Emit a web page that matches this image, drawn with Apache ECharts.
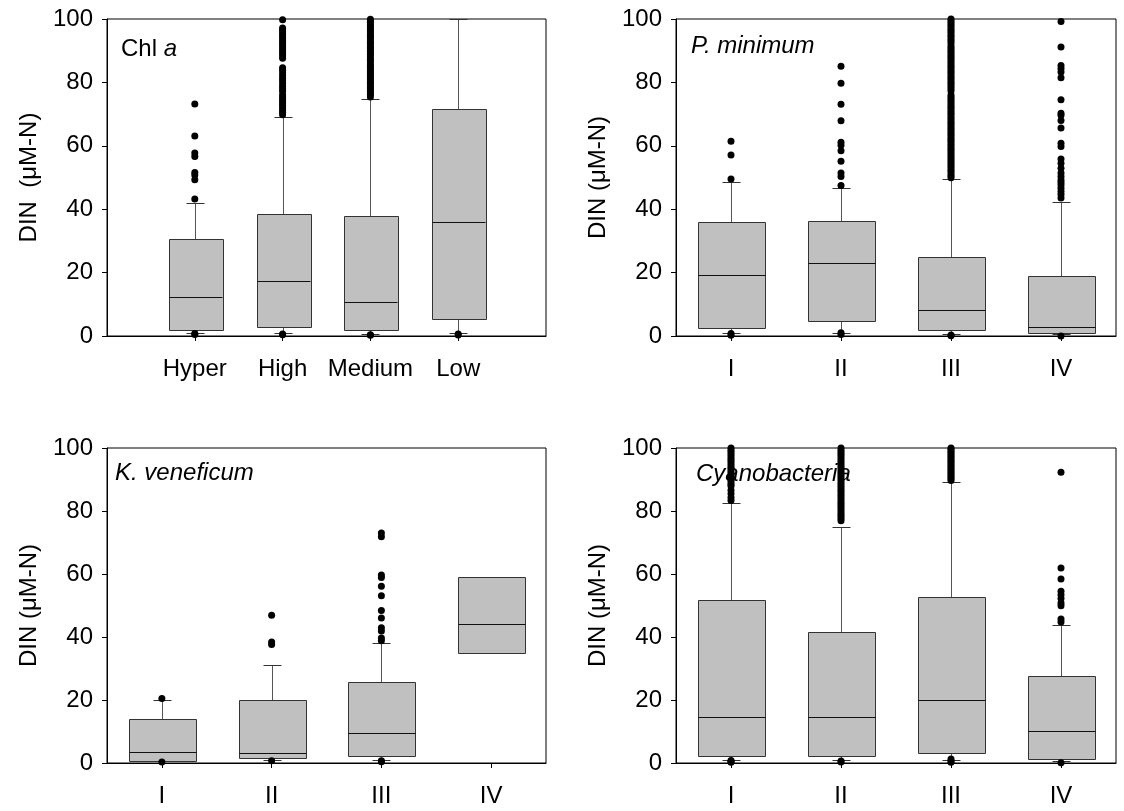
<!DOCTYPE html>
<html><head><meta charset="utf-8">
<script src="https://cdn.jsdelivr.net/npm/echarts@6/dist/echarts.min.js"></script>
<style>html,body{margin:0;padding:0;background:#fff}#c{width:1124px;height:811px}</style>
</head><body><div id="c"></div>
<script>
// ---------- data ----------
const yTicks = [0, 20, 40, 60, 80, 100];

// Panel 1: Chl a  -- box: [min, Q1, median, Q3, max]
const chlCats = ['Hyper', 'High', 'Medium', 'Low'];
const chlBox = [
  [1.0, 2.1, 12.3, 30.7, 41.9],
  [0.8, 2.9, 17.4, 38.4, 69.1],
  [0.6, 1.9, 10.6, 37.9, 74.8],
  [1.0, 5.4, 36.0, 71.7, 100]
];
const chlOut = [
  [73.2, 63.1, 57.7, 56.6, 51.6, 50.8, 49.3, 43.2, 0.8, 0.5],
  [99.8, 97.2, 96.6, 96.0, 95.3, 94.7, 94.0, 93.3, 92.6, 91.9, 91.2, 90.5, 89.8, 89.1, 88.4, 87.6,
   84.6, 83.8, 83.0, 82.1, 81.2, 80.5, 79.6, 78.7, 77.9, 77.2,
   76.1, 75.4, 74.7, 74.0, 73.3, 72.6, 71.9, 71.2, 70.5, 69.8, 0.6, 0.4],
  [99.9, 99.3, 98.8, 98.1, 97.6, 97.0, 96.3, 95.9, 95.2, 94.5, 94.1, 93.4, 92.7, 92.2, 91.6, 90.9,
   90.5, 89.8, 89.1, 88.7, 88.0, 87.3, 86.9, 86.2, 85.5, 85.1, 84.4, 83.7, 83.3, 82.6, 81.9, 81.4,
   80.8, 80.1, 79.7, 79.0, 78.3, 77.9, 77.2, 76.5, 76.1, 75.4, 0.4, 0.2],
  [0.6, 0.3]
];

// Panel 2: P. minimum
const pmCats = ['I', 'II', 'III', 'IV'];
const pmBox = [
  [0.8, 2.4, 19.1, 35.9, 48.7],
  [0.8, 4.8, 22.9, 36.3, 46.7],
  [0.6, 1.8, 8.3, 24.8, 49.6],
  [0.5, 0.8, 2.7, 18.8, 42.3]
];
const pmOut = [
  [61.4, 57.1, 49.5, 0.8, 0.2],
  [85.1, 79.7, 73.1, 67.9, 61.1, 60.2, 58.4, 55.1, 51.4, 50.3, 47.5, 1.0, 0.5],
  [100.0, 99.4, 98.7, 98.1, 97.5, 96.8, 96.2, 95.6, 94.9, 94.3, 93.6, 93.0, 92.3, 91.4, 90.8, 90.1,
   89.5, 88.8, 88.2, 87.6, 86.9, 86.3, 85.6, 85.0, 84.4, 83.7, 83.1, 82.5, 81.8, 81.2, 80.5, 79.9,
   79.3, 78.6, 78.0, 77.3, 76.0, 75.4, 74.8, 74.1, 73.5, 72.8, 72.2, 71.6, 70.9, 70.3, 69.7, 69.0,
   68.4, 67.7, 67.1, 66.5, 65.8, 65.2, 64.5, 63.9, 63.3, 62.6, 62.0, 61.4, 60.7, 60.1, 59.4, 58.8,
   58.2, 57.5, 56.9, 56.2, 55.6, 55.0, 54.3, 53.7, 53.1, 52.4, 51.8, 51.1, 50.5, 49.9, 0.3, 0.1],
  [99.2, 91.2, 85.3, 84.4, 83.3, 81.5, 74.5, 70.3, 69.6, 68.0, 65.6, 60.8, 59.8, 55.8, 54.5, 52.9,
   51.4, 50.3, 49.2, 48.4, 47.6, 46.6, 45.6, 44.6, 43.5, 0.0]
];

// Panel 3: K. veneficum
const kvCats = ['I', 'II', 'III', 'IV'];
const kvBox = [
  [0.5, 0.7, 3.5, 13.9, 20.0],
  [1.0, 1.5, 3.3, 20.0, 31.1],
  [1.0, 2.0, 9.5, 25.6, 38.0],
  [35.0, 35.0, 44.1, 59.0, 59.0]
];
const kvOut = [
  [20.5, 0.3],
  [46.9, 38.4, 37.6, 0.7],
  [73.0, 71.8, 59.7, 58.9, 56.1, 53.1, 48.4, 46.0, 42.9, 41.9, 39.7, 38.8, 0.7, 0.4],
  []
];

// Panel 4: Cyanobacteria
const cyCats = ['I', 'II', 'III', 'IV'];
const cyBox = [
  [1.1, 2.1, 14.6, 51.7, 82.6],
  [0.8, 2.1, 14.5, 41.5, 74.9],
  [1.1, 3.2, 19.9, 52.6, 89.2],
  [0.5, 1.3, 10.1, 27.5, 43.8]
];
const cyOut = [
  [100.0, 99.3, 98.7, 98.0, 97.3, 96.6, 96.0, 95.3, 94.6, 93.9, 93.3, 92.6, 91.9, 91.2, 90.6, 89.9,
   89.2, 88.5, 87.9, 86.6, 85.5, 84.3, 83.3, 0.8, 0.5, 0.2],
  [100.0, 99.3, 98.6, 97.9, 97.2, 96.5, 95.8, 95.1, 94.4, 93.7, 93.0, 92.3, 91.6, 90.9, 90.2, 89.5,
   88.8, 88.1, 87.4, 86.7, 86.0, 85.3, 84.6, 83.9, 83.2, 82.5, 81.8, 81.1, 80.4, 79.7, 79.0, 78.3,
   77.6, 76.9, 0.6, 0.3],
  [100.0, 99.6, 99.0, 98.5, 97.9, 97.4, 96.8, 96.3, 95.7, 95.2, 94.6, 94.1, 93.5, 93.0, 92.4, 91.9,
   91.3, 90.8, 90.2, 89.7, 1.3, 0.6, 0.2],
  [92.3, 61.9, 58.4, 54.5, 53.4, 52.2, 50.8, 49.9, 45.7, 44.8, 0.1]
];

// ---------- chart ----------
const FONT = "'Liberation Sans', Arial, Helvetica, sans-serif";
const panels = [
  {cats: chlCats, box: chlBox, out: chlOut, xMin: 0, xMax: 5, yName: 'DIN  (\u03bcM-N)',
   grid: {left: 107, top: 19, width: 439, height: 317},
   title: {text: 'Chl {i|a}', left: 121, top: 37, italic: false}},
  {cats: pmCats, box: pmBox, out: pmOut, xMin: 0.5, xMax: 4.5, yName: 'DIN (\u03bcM-N)',
   grid: {left: 676, top: 19, width: 440, height: 317},
   title: {text: 'P. minimum', left: 691, top: 34, italic: true}},
  {cats: kvCats, box: kvBox, out: kvOut, xMin: 0.5, xMax: 4.5, yName: 'DIN (\u03bcM-N)',
   grid: {left: 107, top: 448, width: 439, height: 315},
   title: {text: 'K. veneficum', left: 115, top: 461, italic: true}},
  {cats: cyCats, box: cyBox, out: cyOut, xMin: 0.5, xMax: 4.5, yName: 'DIN (\u03bcM-N)',
   grid: {left: 676, top: 448, width: 440, height: 315},
   title: {text: 'Cyanobacteria', left: 696, top: 462, italic: true}}
];

function renderBox(params, api) {
  const x = api.value(0);
  const lo = api.coord([x, api.value(1)]);
  const q1 = api.coord([x, api.value(2)]);
  const md = api.coord([x, api.value(3)]);
  const q3 = api.coord([x, api.value(4)]);
  const hi = api.coord([x, api.value(5)]);
  const unit = api.size([1, 0])[0];
  const hw = unit * 0.305;
  const cw = 9;
  const cx = Math.round(q1[0]) + 0.5;
  const r = v => Math.round(v) + 0.5;
  const wStyle = {stroke: '#555', lineWidth: 1};
  return {
    type: 'group',
    children: [
      {type: 'line', shape: {x1: cx, y1: r(q3[1]), x2: cx, y2: r(hi[1])}, style: wStyle},
      {type: 'line', shape: {x1: cx, y1: r(q1[1]), x2: cx, y2: r(lo[1])}, style: wStyle},
      {type: 'line', shape: {x1: cx - cw, y1: r(hi[1]), x2: cx + cw, y2: r(hi[1])}, style: {stroke: '#333', lineWidth: 1}},
      {type: 'line', shape: {x1: cx - cw, y1: r(lo[1]), x2: cx + cw, y2: r(lo[1])}, style: {stroke: '#333', lineWidth: 1}},
      {type: 'rect', shape: {x: r(cx - hw), y: r(q3[1]), width: Math.round(2 * hw), height: Math.round(q1[1] - q3[1])},
       style: {fill: '#c0c0c0', stroke: '#333', lineWidth: 1}},
      {type: 'line', shape: {x1: r(cx - hw), y1: r(md[1]), x2: r(cx + hw), y2: r(md[1])}, style: {stroke: '#111', lineWidth: 1}}
    ]
  };
}

const option = {
  backgroundColor: '#fff',
  animation: false,
  title: [], grid: [], xAxis: [], yAxis: [], series: []
};

panels.forEach((p, k) => {
  option.title.push({
    text: p.title.text, left: p.title.left, top: p.title.top, padding: 0, z: 1,
    textStyle: {fontSize: 24, fontFamily: FONT, color: '#000', fontWeight: 'normal',
                fontStyle: p.title.italic ? 'italic' : 'normal',
                rich: {i: {fontSize: 24, fontFamily: FONT, color: '#000', fontStyle: 'italic'}}}
  });
  option.grid.push(Object.assign({show: true, borderColor: '#000', borderWidth: 1, backgroundColor: 'transparent'}, p.grid));
  const vals = p.cats.map((c, i) => i + 1);
  option.xAxis.push({
    type: 'value', gridIndex: k, min: p.xMin, max: p.xMax,
    splitLine: {show: false},
    axisLine: {show: true, lineStyle: {color: '#000', width: 1}},
    axisTick: {show: true, customValues: vals, length: 5, lineStyle: {color: '#000'}},
    axisLabel: {customValues: vals, margin: 21, fontSize: 24, fontFamily: FONT, color: '#000',
                formatter: v => p.cats[Math.round(v) - 1] || ''}
  });
  option.yAxis.push({
    type: 'value', gridIndex: k, min: 0, max: 100, interval: 20,
    name: p.yName, nameLocation: 'middle', nameGap: 66,
    nameTextStyle: {fontSize: 24, fontFamily: FONT, color: '#000'},
    splitLine: {show: false},
    axisLine: {show: true, lineStyle: {color: '#000', width: 1}},
    axisTick: {show: true, length: 5, lineStyle: {color: '#000'}},
    axisLabel: {margin: 14, fontSize: 24, fontFamily: FONT, color: '#000',
                formatter: v => yTicks.includes(v) ? String(v) : ''}
  });
  option.series.push({
    type: 'custom', xAxisIndex: k, yAxisIndex: k, renderItem: renderBox, z: 2,
    encode: {x: 0, y: [1, 2, 3, 4, 5]},
    data: p.box.map((b, i) => [i + 1].concat(b))
  });
  const pts = [];
  p.out.forEach((arr, i) => arr.forEach(v => pts.push([i + 1, v])));
  option.series.push({
    type: 'scatter', xAxisIndex: k, yAxisIndex: k, z: 10, clip: false,
    symbol: 'circle', symbolSize: 7, itemStyle: {color: '#000', opacity: 1},
    data: pts
  });
});

const chart = echarts.init(document.getElementById('c'), null, {renderer: 'canvas'});
chart.setOption(option);
</script>
</body></html>
